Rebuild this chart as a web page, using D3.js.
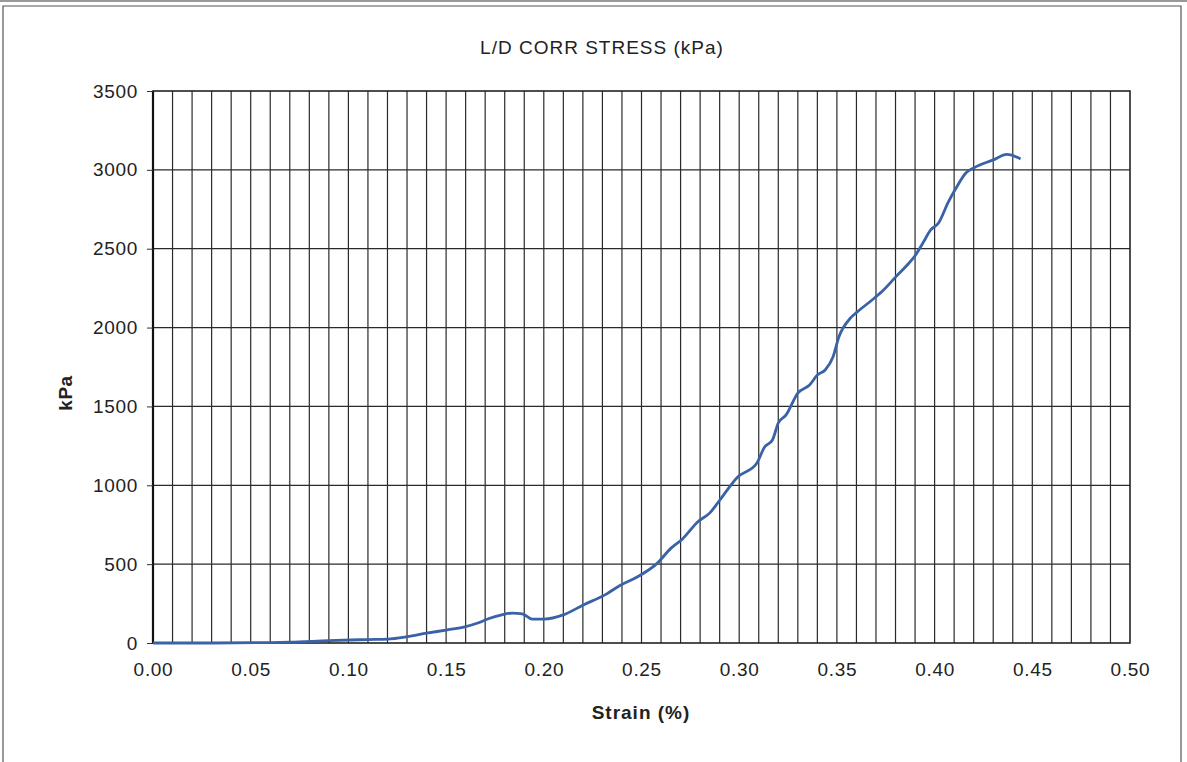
<!DOCTYPE html>
<html><head><meta charset="utf-8">
<script src="https://cdn.jsdelivr.net/npm/d3@7"></script>
<style>body{margin:0;background:#fff;}svg{display:block;}</style>
</head><body>
<script>
const strain = [0.000,0.030,0.060,0.070,0.090,0.110,0.120,0.130,0.140,0.150,0.159,0.167,0.172,0.178,0.184,0.189,0.194,0.200,0.210,0.220,0.232,0.239,0.248,0.258,0.265,0.271,0.279,0.285,0.290,0.299,0.309,0.313,0.317,0.320,0.324,0.330,0.336,0.340,0.344,0.348,0.351,0.357,0.360,0.368,0.374,0.380,0.386,0.390,0.394,0.398,0.402,0.407,0.411,0.416,0.420,0.430,0.437,0.444];
const stress = [0,0,3,5,15,22,25,40,62,82,101,130,155,177,190,185,152,152,178,240,310,365,420,505,600,660,770,825,905,1050,1140,1243,1287,1395,1446,1585,1636,1699,1731,1813,1940,2061,2095,2175,2240,2320,2397,2455,2536,2619,2663,2796,2885,2980,3012,3063,3098,3069];
const xTicks = [0,0.05,0.10,0.15,0.20,0.25,0.30,0.35,0.40,0.45,0.50];
const yTicks = [0,500,1000,1500,2000,2500,3000,3500];
const title = "L/D CORR STRESS (kPa)";
const xLabel = "Strain (%)";
const yLabel = "kPa";

const W = 1187, H = 762;
const m = {left:153, right:1130, top:91, bottom:643};
const FONT = "'Liberation Sans', Arial, sans-serif";
const svg = d3.select("body").append("svg").attr("width",W).attr("height",H)
  .style("font-family",FONT);

// page frame
svg.append("line").attr("x1",0).attr("x2",W).attr("y1",1).attr("y2",1).attr("stroke","#999").attr("stroke-width",2);
svg.append("path").attr("d",`M3,${H} V6 H1181 V${H}`).attr("fill","none").attr("stroke","#555").attr("stroke-width",1.2);

const x = d3.scaleLinear().domain([0,0.5]).range([m.left,m.right]);
const y = d3.scaleLinear().domain([0,3500]).range([m.bottom,m.top]);

// vertical grid every 0.01
const vgrid = d3.range(1,50).map(i=>i/100);
svg.append("g").selectAll("line").data(vgrid).join("line")
  .attr("x1",d=>x(d)).attr("x2",d=>x(d)).attr("y1",m.top).attr("y2",m.bottom)
  .attr("stroke","#2a2a2a").attr("stroke-width",1.2);
// horizontal grid
svg.append("g").selectAll("line").data(yTicks.slice(1,-1)).join("line")
  .attr("x1",m.left).attr("x2",m.right).attr("y1",d=>y(d)).attr("y2",d=>y(d))
  .attr("stroke","#2a2a2a").attr("stroke-width",1.2);

// frame
svg.append("rect").attr("x",m.left).attr("y",m.top).attr("width",m.right-m.left).attr("height",m.bottom-m.top)
  .attr("fill","none").attr("stroke","#222").attr("stroke-width",1.6);
svg.append("line").attr("x1",m.left).attr("x2",m.left).attr("y1",m.top).attr("y2",m.bottom).attr("stroke","#111").attr("stroke-width",2.2);

// y axis
const yAxis = d3.axisLeft(y).tickValues(yTicks).tickSize(6).tickPadding(9).tickFormat(d3.format("d"));
const gy = svg.append("g").attr("transform",`translate(${m.left},0)`).call(yAxis);
gy.select(".domain").remove();
gy.selectAll("line").attr("stroke","#333");
gy.selectAll("text").attr("font-size",19).attr("letter-spacing","0.7px").attr("fill","#222").attr("font-family",FONT);

// x axis
const xAxis = d3.axisBottom(x).tickValues(xTicks).tickSize(0).tickPadding(20).tickFormat(d3.format(".2f"));
const gx = svg.append("g").attr("transform",`translate(0,${m.bottom})`).call(xAxis);
gx.select(".domain").remove();
gx.selectAll("text").attr("font-size",19).attr("letter-spacing","0.7px").attr("fill","#222").attr("font-family",FONT);

// line
const line = d3.line().x((d,i)=>x(strain[i])).y(d=>y(d)).curve(d3.curveMonotoneX);
svg.append("path").datum(stress).attr("d",line).attr("fill","none")
  .attr("stroke","#3a62a6").attr("stroke-width",2.8).attr("stroke-linejoin","round");

// texts
svg.append("text").attr("x",602).attr("y",54).attr("text-anchor","middle").attr("font-size",19).attr("letter-spacing","1px").attr("fill","#222").text(title);
svg.append("text").attr("x",641).attr("y",719).attr("text-anchor","middle").attr("font-size",19).attr("letter-spacing","1px").attr("font-weight","bold").attr("fill","#222").text(xLabel);
svg.append("text").attr("transform","translate(72,393) rotate(-90)").attr("text-anchor","middle").attr("font-size",19).attr("letter-spacing","0.5px").attr("font-weight","bold").attr("fill","#222").text(yLabel);
</script>
</body></html>
